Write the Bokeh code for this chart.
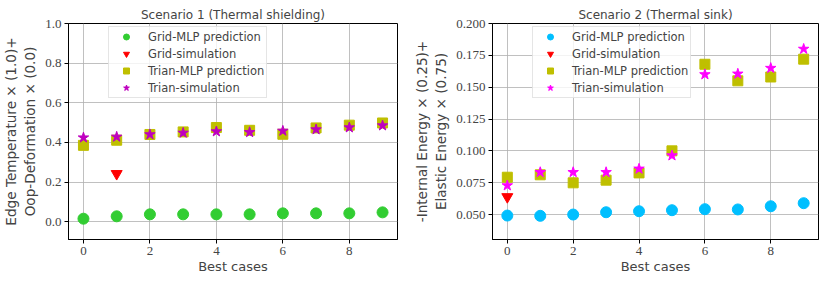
from bokeh.plotting import figure
from bokeh.layouts import row
from bokeh.models import FixedTicker, NumeralTickFormatter, Range1d, Legend, LegendItem
from bokeh.embed import file_html
from bokeh.resources import INLINE

cases = [0, 1, 2, 3, 4, 5, 6, 7, 8, 9]

# Scenario 1
s1_grid_mlp = [0.015, 0.027, 0.037, 0.037, 0.037, 0.037, 0.042, 0.042, 0.042, 0.047]
s1_grid_sim_x = [1]
s1_grid_sim = [0.242]
s1_trian_mlp = [0.385, 0.411, 0.440, 0.453, 0.475, 0.461, 0.441, 0.473, 0.487, 0.498]
s1_trian_sim = [0.424, 0.428, 0.440, 0.448, 0.455, 0.451, 0.458, 0.465, 0.475, 0.485]

# Scenario 2
s2_grid_mlp = [0.0492, 0.0490, 0.0500, 0.0518, 0.0526, 0.0534, 0.0542, 0.0540, 0.0565, 0.0589]
s2_grid_sim_x = [0]
s2_grid_sim = [0.0639]
s2_trian_mlp = [0.0793, 0.0812, 0.0749, 0.0770, 0.0827, 0.1000, 0.1680, 0.1550, 0.1580, 0.1720]
s2_trian_sim = [0.0728, 0.0832, 0.0832, 0.0832, 0.0859, 0.0963, 0.1600, 0.1605, 0.1650, 0.1800]

labels = ["Grid-MLP prediction", "Grid-simulation", "Trian-MLP prediction", "Trian-simulation"]

SANS = "DejaVu Sans"
SERIF = "Liberation Serif"


def make(title, ylabel, yr, yticks, yfmt, gm, gsx, gs, tm, ts, gcol, scol, fw, bl, br):
    p = figure(frame_width=fw, frame_height=216, output_backend="svg", toolbar_location=None,
               x_range=Range1d(-0.45, 9.45), y_range=Range1d(*yr),
               min_border_left=bl, min_border_right=br, min_border_top=23, min_border_bottom=40)
    p.title.text = title
    p.title.align = "center"
    p.title.text_font = SANS
    p.title.text_font_size = "12px"
    p.title.text_font_style = "normal"
    p.title.offset = 0
    p.title.standoff = 4
    p.outline_line_color = "black"
    p.outline_line_width = 1
    for ax in (p.xaxis, p.yaxis):
        ax.major_label_text_font = SERIF
        ax.major_label_text_font_size = "13px"
        ax.axis_label_text_font = SANS
        ax.axis_label_text_font_style = "normal"
        ax.minor_tick_line_color = None
        ax.major_tick_out = 4
        ax.major_tick_in = 0
        ax.major_label_standoff = 3
        ax.axis_line_color = "black"
    p.xaxis.axis_label = "Best cases"
    p.xaxis.axis_label_text_font_size = "13px"
    p.xaxis.axis_label_standoff = 1
    p.xaxis.ticker = FixedTicker(ticks=[0, 2, 4, 6, 8])
    p.yaxis.axis_label = ylabel
    p.yaxis.axis_label_text_font_size = "13.6px"
    p.yaxis.axis_label_standoff = 4
    p.yaxis.ticker = FixedTicker(ticks=yticks)
    p.yaxis.formatter = NumeralTickFormatter(format=yfmt)
    p.grid.grid_line_color = "#b0b0b0"
    p.grid.grid_line_width = 0.8

    r1 = p.scatter(cases, gm, marker="circle", size=11, color=gcol, line_color=gcol)
    r2 = p.scatter(gsx, gs, marker="inverted_triangle", size=11, color="red", line_color="red")
    r3 = p.scatter(cases, tm, marker="square", size=10, color="#bfbf00", line_color="#bfbf00")
    r4 = p.scatter(cases, ts, marker="star", size=11, color=scol, line_color=scol)

    leg = Legend(items=[LegendItem(label=l, renderers=[r]) for l, r in zip(labels, [r1, r2, r3, r4])],
                 location=(40, 141))
    leg.label_text_font = SANS
    leg.label_text_font_size = "11.5px"
    leg.label_height = 15
    leg.glyph_height = 15
    leg.glyph_width = 30
    leg.spacing = 2
    leg.padding = 2
    leg.margin = 0
    leg.label_standoff = 7
    leg.border_line_color = "#cccccc"
    leg.background_fill_alpha = 0.8
    p.add_layout(leg, "center")
    return p


p1 = make("Scenario 1 (Thermal shielding)", "Edge Temperature \u00d7 (1.0)+\nOop-Deformation \u00d7 (0.0)",
          (-0.09, 1.0), [0.0, 0.2, 0.4, 0.6, 0.8, 1.0], "0.0",
          s1_grid_mlp, s1_grid_sim_x, s1_grid_sim, s1_trian_mlp, s1_trian_sim,
          "#32cd32", "#bf00bf", 329, 68, 14)
p2 = make("Scenario 2 (Thermal sink)", "-Internal Energy \u00d7 (0.25)+\nElastic Energy \u00d7 (0.75)",
          (0.0304, 0.2), [0.05, 0.075, 0.1, 0.125, 0.15, 0.175, 0.2], "0.000",
          s2_grid_mlp, s2_grid_sim_x, s2_grid_sim, s2_trian_mlp, s2_trian_sim,
          "#00bfff", "#ff00ff", 326, 76, 8)

layout = row(p1, p2)
open("out.html", "w").write(file_html(layout, INLINE))
